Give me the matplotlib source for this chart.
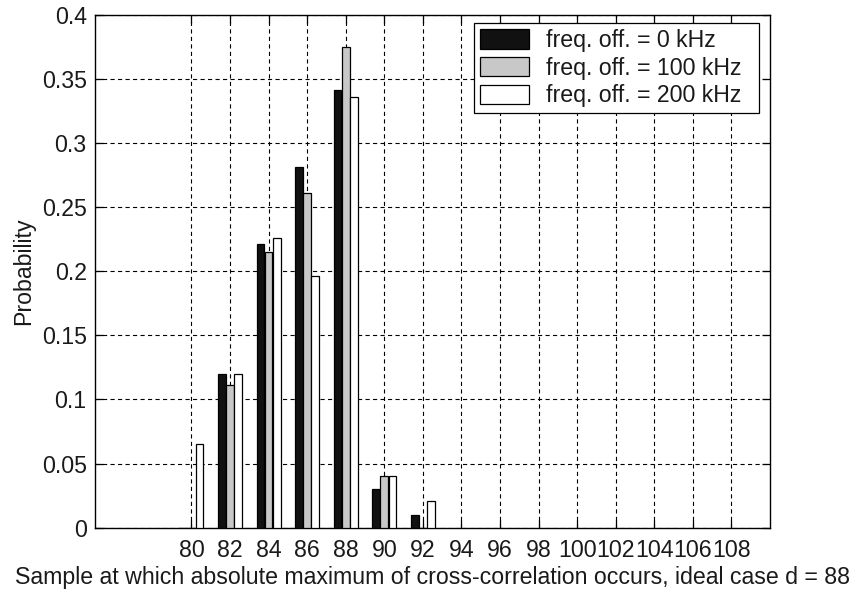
import matplotlib
matplotlib.use("Agg")
import matplotlib.pyplot as plt
import numpy as np

# ---- data ----
samples = [80, 82, 84, 86, 88, 90, 92]
off_0kHz = [0.0, 0.12, 0.221, 0.281, 0.341, 0.030, 0.010]
off_100kHz = [0.0, 0.111, 0.215, 0.261, 0.375, 0.040, 0.0]
off_200kHz = [0.065, 0.12, 0.226, 0.196, 0.336, 0.040, 0.021]
series_labels = ["freq. off. = 0 kHz", "freq. off. = 100 kHz", "freq. off. = 200 kHz"]
xticks = list(range(80, 110, 2))
yticks = [0, 0.05, 0.1, 0.15, 0.2, 0.25, 0.3, 0.35, 0.4]
ytick_labels = ["0", "0.05", "0.1", "0.15", "0.2", "0.25", "0.3", "0.35", "0.4"]
xlabel = "Sample at which absolute maximum of cross-correlation occurs, ideal case d = 88"
ylabel = "Probability"

plt.rcParams['font.family'] = ['Liberation Sans', 'DejaVu Sans']
plt.rcParams['lines.scale_dashes'] = False
FS = 16.7
TXT = '#1a1a1a'

fig = plt.figure(figsize=(8.57, 5.94), dpi=100)
ax = fig.add_axes([95/857, 1-527.7/594, (770-95)/857, (527.7-14.7)/594])

colors = ['#111111', '#c8c8c8', '#ffffff']
offsets = [-0.42, 0.0, 0.42]
width = 0.40
x = np.array(samples, dtype=float)
for vals, c, off, lab in zip([off_0kHz, off_100kHz, off_200kHz], colors, offsets, series_labels):
    ax.bar(x + off, vals, width=width, color=c, edgecolor='black', linewidth=0.9, label=lab, zorder=3)

ax.set_xlim(75, 110)
ax.set_ylim(0, 0.4)
ax.set_xticks(xticks)
ax.set_xticklabels([str(t) for t in xticks], fontsize=FS)
ax.set_yticks(yticks)
ax.set_yticklabels(ytick_labels, fontsize=FS)
ax.tick_params(direction='in', length=6, width=0.9, top=True, right=True, colors='black', labelcolor=TXT)
ax.tick_params(axis='x', pad=8)
ax.tick_params(axis='y', pad=6)
ax.set_axisbelow(True)
ax.grid(True, color='black', linestyle=(0, (3.0, 2.4)), linewidth=0.8)
for s in ax.spines.values():
    s.set_linewidth(1.0)
    s.set_color('black')

ax.set_xlabel(xlabel, fontsize=FS, color=TXT, labelpad=3)
ax.set_ylabel(ylabel, fontsize=FS, color=TXT, labelpad=5)

lx0 = (474 - 95) / 675
lw = (759 - 474) / 675
ltop = (527.7 - 23) / 513
leg = ax.legend(loc='upper right', bbox_to_anchor=(lx0, 0.5, lw, ltop - 0.5), mode='expand',
                borderaxespad=0, fontsize=FS, fancybox=False, framealpha=1,
                edgecolor='black', handlelength=2.1, handleheight=0.9,
                handletextpad=0.73, labelspacing=0.2, borderpad=0.26)
leg.get_frame().set_linewidth(0.9)
for t in leg.get_texts():
    t.set_color(TXT)

fig.savefig("out.png", dpi=100, facecolor='white')
